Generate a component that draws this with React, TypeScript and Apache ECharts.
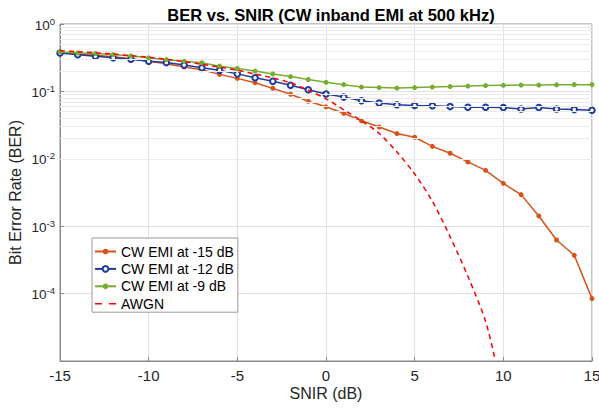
import React, { useEffect, useRef } from "react";
import * as echarts from "echarts";

const snr = [-15, -14, -13, -12, -11, -10, -9, -8, -7, -6, -5, -4, -3, -2, -1, 0, 1, 2, 3, 4, 5, 6, 7, 8, 9, 10, 11, 12, 13, 14, 15];
const berCw15 = [0.376, 0.361, 0.343, 0.326, 0.305, 0.28, 0.257, 0.23, 0.209, 0.179, 0.156, 0.134, 0.111, 0.0906, 0.0713, 0.0591, 0.0473, 0.0366, 0.0296, 0.0237, 0.0209, 0.0153, 0.0121, 0.009, 0.00675, 0.00433, 0.00294, 0.00142, 0.000624, 0.00037, 0.0000843];
const berCw12 = [0.371, 0.35, 0.332, 0.317, 0.3, 0.28, 0.268, 0.246, 0.224, 0.206, 0.182, 0.159, 0.141, 0.123, 0.106, 0.0915, 0.0823, 0.0725, 0.0671, 0.0633, 0.0618, 0.0611, 0.0595, 0.0581, 0.0581, 0.0577, 0.0548, 0.0575, 0.0548, 0.0537, 0.0524];
const berCw9 = [0.384, 0.371, 0.364, 0.352, 0.335, 0.315, 0.296, 0.28, 0.266, 0.237, 0.219, 0.2, 0.181, 0.166, 0.15, 0.1365, 0.126, 0.116, 0.114, 0.112, 0.114, 0.116, 0.118, 0.12, 0.122, 0.123, 0.124, 0.124, 0.125, 0.126, 0.126];
const awgnSnr = [-15, -14, -13, -12, -11, -10, -9, -8, -7, -6, -5, -4, -3, -2, -1, 0, 1, 2, 3, 4, 5, 6, 7, 8, 9, 9.55];
const awgnBer = [0.4, 0.387, 0.374, 0.358, 0.339, 0.321, 0.3, 0.278, 0.252, 0.229, 0.206, 0.181, 0.158, 0.134, 0.104, 0.0777, 0.0533, 0.0366, 0.0237, 0.0126, 0.00595, 0.00234, 0.000696, 0.000181, 0.0000388, 0.00001];
const seriesNames = ["CW EMI at -15 dB", "CW EMI at -12 dB", "CW EMI at -9 dB", "AWGN"];

const FONT = "'Liberation Sans', Arial, Helvetica, sans-serif";

export default function App() {
  const ref = useRef<HTMLDivElement>(null);
  useEffect(() => {
    if (!ref.current) return;
    const chart = echarts.init(ref.current, undefined, { renderer: "svg" });
    const minorVals: number[] = [];
    for (let d = -5; d <= -1; d++) {
      for (let k = 2; k <= 9; k++) minorVals.push(k * Math.pow(10, d));
    }
    const pair = (xs: number[], ys: number[]) => xs.map((x, i) => [x, ys[i]]);
    const option: any = {
      animation: false,
      backgroundColor: "#ffffff",
      textStyle: { fontFamily: FONT },
      title: {
        text: "BER vs. SNIR (CW inband EMI at 500 kHz)",
        left: 326,
        textAlign: "center",
        top: 1,
        textStyle: { fontFamily: FONT, fontSize: 16.5, fontWeight: "bold", color: "#000" },
      },
      grid: {
        left: 60,
        right: 7,
        top: 24,
        bottom: 48,
        show: true,
        borderColor: "#8a8a8a",
        borderWidth: 1,
        backgroundColor: "transparent",
        containLabel: false,
        outerBoundsMode: "none",
      },
      legend: {
        data: [
          { name: seriesNames[0] },
          { name: seriesNames[1] },
          { name: seriesNames[2] },
          { name: seriesNames[3], icon: "path://M0,0h7v1.6h-7Z M14,0h7v1.6h-7Z" },
        ],
        orient: "vertical",
        left: 92,
        top: 238,
        itemWidth: 21,
        itemHeight: 7,
        itemGap: 2.4,
        padding: [6, 4, 1, 2],
        backgroundColor: "#ffffff",
        borderColor: "#9a9a9a",
        borderWidth: 1,
        textStyle: { fontFamily: FONT, fontSize: 14, color: "#000", lineHeight: 15 },
      },
      xAxis: {
        type: "value",
        min: -15,
        max: 15,
        interval: 5,
        name: "SNIR (dB)",
        nameLocation: "middle",
        nameGap: 24,
        nameMoveOverlap: false,
        nameTextStyle: { fontFamily: FONT, fontSize: 16, color: "#262626" },
        axisLine: { show: true, onZero: false, lineStyle: { color: "#8a8a8a", width: 1 } },
        axisTick: { show: true, inside: true, length: 4, lineStyle: { color: "#8a8a8a" } },
        axisLabel: { fontFamily: FONT, fontSize: 15, color: "#262626", margin: 7 },
        splitLine: { show: true, lineStyle: { color: "#e2e2e2", width: 1 } },
      },
      yAxis: {
        type: "log",
        logBase: 10,
        min: 0.00001,
        max: 1,
        name: "Bit Error Rate (BER)",
        nameLocation: "middle",
        nameGap: 37,
        nameMoveOverlap: false,
        nameTextStyle: { fontFamily: FONT, fontSize: 16, color: "#262626" },
        axisLine: { show: true, onZero: false, lineStyle: { color: "#8a8a8a", width: 1 } },
        axisTick: { show: true, inside: true, length: 4, lineStyle: { color: "#8a8a8a" } },
        axisLabel: {
          showMinLabel: false,
          margin: 5,
          formatter: (v: number) => {
            const e = Math.round(Math.log10(v));
            return `{b|10}{s|${e}}`;
          },
          rich: {
            b: { fontFamily: FONT, fontSize: 13.5, color: "#262626", lineHeight: 16, verticalAlign: "bottom" },
            s: { fontFamily: FONT, fontSize: 9.5, color: "#262626", lineHeight: 16, verticalAlign: "top" },
          },
        },
        splitLine: { show: true, lineStyle: { color: "#e0e0e0", width: 1 } },
      },
      series: [
        {
          name: "",
          type: "line",
          data: [],
          z: 1,
          silent: true,
          markLine: {
            silent: true,
            symbol: "none",
            label: { show: false },
            lineStyle: { color: "#ebebeb", width: 1, type: "solid" },
            data: minorVals.map((v) => ({ yAxis: v })),
          },
        },
        {
          name: seriesNames[0],
          type: "line",
          data: pair(snr, berCw15),
          symbol: "circle",
          symbolSize: 5,
          itemStyle: { color: "#D95319" },
          lineStyle: { color: "#D95319", width: 1.5 },
          z: 3,
        },
        {
          name: seriesNames[1],
          type: "line",
          data: pair(snr, berCw12),
          symbol: "emptyCircle",
          symbolSize: 5.5,
          itemStyle: { color: "#1f3c9c", borderWidth: 1.5, borderColor: "#1f3c9c" },
          lineStyle: { color: "#1f3c9c", width: 1.5 },
          z: 4,
        },
        {
          name: seriesNames[2],
          type: "line",
          data: pair(snr, berCw9),
          symbol: "circle",
          symbolSize: 5,
          itemStyle: { color: "#77AC30" },
          lineStyle: { color: "#77AC30", width: 1.5 },
          z: 5,
        },
        {
          name: seriesNames[3],
          type: "line",
          data: pair(awgnSnr, awgnBer),
          symbol: "none",
          smooth: 0.3,
          clip: true,
          itemStyle: { color: "#FF0000" },
          lineStyle: { color: "#FF0000", width: 1.5, type: [5, 4] },
          z: 6,
        },
      ],
    };
    chart.setOption(option);
    return () => chart.dispose();
  }, []);
  return (
    <div
      ref={ref}
      style={{ position: "fixed", left: 0, top: 0, width: 599, height: 409, background: "#fff" }}
    />
  );
}
